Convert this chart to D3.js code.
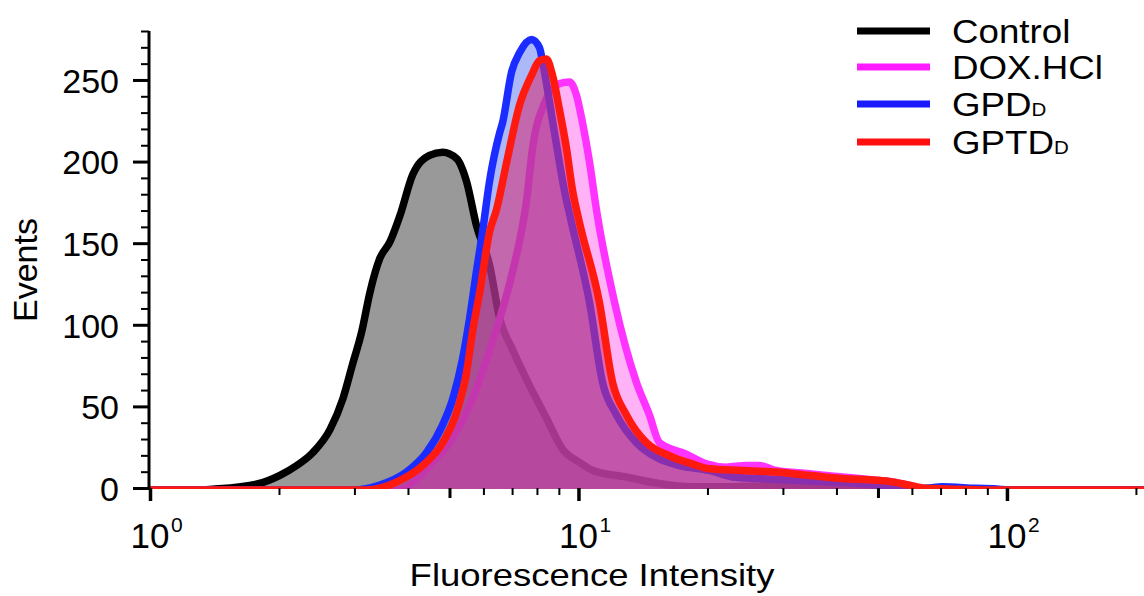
<!doctype html>
<html lang="en">
<head>
<meta charset="utf-8">
<script src="https://d3js.org/d3.v7.min.js"></script>
<style>
  body { margin: 0; background: #fff; }
  svg { display: block; font-family: "Liberation Sans", Arial, sans-serif; }
</style>
</head>
<body>
<svg width="1144" height="596"></svg>
<script>

// fluorescence intensity (x) and event counts (y)
var controlX = [1, 1.30, 1.40, 1.78, 2.01, 2.20, 2.40, 2.63, 2.82, 2.97, 3.12, 3.26, 3.44, 3.63, 3.83, 4.10, 4.49, 4.82, 5.20, 5.48, 5.78, 6.20, 6.55, 7.02, 7.69, 8.42, 9.18, 10.05, 10.8, 12.9, 15.4, 18.4, 22.1, 31.5, 45.2, 56, 100, 210];
var controlY = [0, 0, 0.5, 3.7, 9, 15, 23, 37, 56, 77, 97, 121, 142, 152, 168, 193, 205, 207, 203, 189, 162, 138, 105, 86, 64, 44, 25, 17, 12, 8, 4, 2, 2, 3, 1, 0, 0, 0];

var doxX = [1, 3.77, 4.50, 5.20, 5.66, 6.10, 6.55, 7.02, 7.57, 7.81, 8.33, 9.03, 9.53, 9.89, 10.22, 10.61, 11.01, 12.14, 13.65, 14.64, 15.45, 17.85, 19.88, 22.13, 24.64, 26.42, 28.94, 34.56, 41.25, 49.52, 53.95, 59.10, 64.74, 80, 210];
var doxY = [0, 0, 15, 36, 56, 80, 105, 134, 178, 209, 237, 249, 250, 242, 225, 201, 172, 115, 66, 46, 29, 22, 16, 14, 15, 15, 12, 10, 8, 6, 5, 3, 0.5, 0, 0];

var gpdX = [1, 2.97, 3.44, 3.97, 4.42, 4.82, 5.09, 5.36, 5.57, 5.78, 5.97, 6.20, 6.55, 6.65, 6.98, 7.29, 7.77, 8.11, 8.25, 8.79, 9.28, 9.63, 10.61, 11.38, 12.27, 13.65, 15.45, 17.20, 20.20, 22.86, 26.42, 31.54, 37.84, 45.19, 53.95, 64.74, 70.56, 84.68, 95.8, 100, 210];
var gpdY = [0, 0, 3, 11, 23, 40, 56, 80, 105, 134, 158, 189, 219, 225, 256, 268, 276, 271, 262, 219, 183, 164, 115, 66, 46, 29, 19, 15, 12, 8, 7, 6, 5, 4, 2, 1, 2, 1, 0.5, 0, 0];

var gptdX = [1, 3.21, 3.77, 4.33, 4.82, 5.20, 5.48, 5.66, 5.88, 6.20, 6.44, 6.80, 7.29, 7.77, 8.11, 8.42, 8.70, 9.03, 9.38, 9.68, 10.05, 11.19, 12.01, 12.94, 14.41, 16.30, 18.44, 20.20, 24.12, 28.94, 34.56, 41.25, 49.52, 53.95, 59.10, 64.74, 77.29, 90, 210];
var gptdY = [0, 0, 5, 15, 29, 48, 72, 97, 121, 158, 172, 201, 236, 254, 263, 264, 254, 233, 209, 184, 164, 115, 66, 46, 29, 21, 16, 13, 12, 11, 9, 7, 6, 5, 3, 1, 0.5, 0, 0];

var seriesNames = ["Control", "DOX.HCl", "GPD", "GPTD"];
var seriesSubs = ["", "", "D", "D"];
var lineColors = ["#000000", "#ff33ff", "#1a2cff", "#ff1a10"];
var legendColors = ["#000000", "#ff1aff", "#1a1aff", "#ff1010"];
var fillColors = ["#999999", "#ff66ee", "#3050f0", "#d2327a"];
var fillOpacity = [1, 0.5, 0.4, 0.6];

var yTicks = [0, 50, 100, 150, 200, 250];
var xTickExps = [0, 1, 2];

var svg = d3.select("svg"),
    plotLeft = 150, plotRight = 1145, plotTop = 31, plotBottom = 488;

var x = d3.scaleLog().domain([1, 210]).range([plotLeft, plotRight]);
var y = d3.scaleLinear().domain([0, 280]).range([plotBottom, plotTop]);

var series = [
  d3.zip(controlX, controlY),
  d3.zip(doxX, doxY),
  d3.zip(gpdX, gpdY),
  d3.zip(gptdX, gptdY)
];

// the curves sit a little below the axis and are clipped there,
// so only a thin part of each outline shows along the baseline
var drop = 2;

svg.append("clipPath").attr("id", "plot-clip")
  .append("rect")
    .attr("x", plotLeft).attr("y", 0)
    .attr("width", 1144 - plotLeft).attr("height", plotBottom + 1);

var area = d3.area()
    .x(function(d) { return x(d[0]); })
    .y0(y(0) + drop)
    .y1(function(d) { return y(d[1]) + drop; })
    .curve(d3.curveMonotoneX);

var line = d3.line()
    .x(function(d) { return x(d[0]); })
    .y(function(d) { return y(d[1]) + drop; })
    .curve(d3.curveMonotoneX);

// x axis baseline
svg.append("line")
    .attr("x1", plotLeft).attr("x2", 1144)
    .attr("y1", plotBottom).attr("y2", plotBottom)
    .attr("stroke", "#000").attr("stroke-width", 2);

// histograms, each fill covers what was drawn before it
var plot = svg.append("g").attr("clip-path", "url(#plot-clip)");
series.forEach(function(s, i) {
  plot.append("path")
      .attr("d", area(s))
      .attr("fill", fillColors[i])
      .attr("fill-opacity", fillOpacity[i]);
  plot.append("path")
      .attr("d", line(s))
      .attr("fill", "none")
      .attr("stroke", lineColors[i])
      .attr("stroke-width", 7.5)
      .attr("stroke-linejoin", "round");
});

// y axis
var yMinor = d3.range(0, 281, 10).filter(function(v) { return v % 50 != 0; });
var yAxisG = svg.append("g").attr("transform", "translate(" + (plotLeft - 1) + ",0)");
yAxisG.append("g")
    .call(d3.axisLeft(y).tickValues(yMinor).tickSize(8).tickFormat(""))
    .call(function(g) { g.select(".domain").remove(); })
    .selectAll("line").attr("stroke-width", 2);
yAxisG.append("g")
    .call(d3.axisLeft(y).tickValues(yTicks).tickSize(16).tickPadding(14))
    .call(function(g) { g.select(".domain").remove(); })
    .call(function(g) {
      g.selectAll("line").attr("stroke-width", 3);
      g.selectAll("text")
          .attr("font-size", 34)
          .attr("font-family", "Liberation Sans, Arial, sans-serif")
          .attr("fill", "#000")
          .attr("dy", "0.36em");
    });
yAxisG.append("line")
    .attr("x1", 0).attr("x2", 0)
    .attr("y1", plotTop).attr("y2", plotBottom + 2)
    .attr("stroke", "#000").attr("stroke-width", 3);

// x axis ticks
var xMinor = [2, 3, 4, 6, 7, 8, 9, 20, 30, 40, 60, 70, 80, 90, 200];
var xMid = [5, 50];
var xMajor = xTickExps.map(function(e) { return Math.pow(10, e); });
var xAxisG = svg.append("g").attr("transform", "translate(0," + plotBottom + ")");
[[xMinor, 7, 2], [xMid, 10, 3], [xMajor, 13, 3.5]].forEach(function(t) {
  xAxisG.append("g")
      .call(d3.axisBottom(x).tickValues(t[0]).tickSize(t[1]).tickFormat(""))
      .call(function(g) { g.select(".domain").remove(); })
      .selectAll("line").attr("stroke-width", t[2]);
});

// x tick labels as 10 with a superscript exponent
xTickExps.forEach(function(e) {
  var px = x(Math.pow(10, e));
  svg.append("text")
      .attr("x", px).attr("y", 548)
      .attr("text-anchor", "middle")
      .attr("font-size", 35)
      .text("10");
  svg.append("text")
      .attr("x", px + 21).attr("y", 532)
      .attr("font-size", 21)
      .text(e);
});

// axis titles
svg.append("text")
    .attr("transform", "translate(592,586) scale(1.14,1)")
    .attr("text-anchor", "middle")
    .attr("font-size", 32)
    .text("Fluorescence Intensity");

svg.append("text")
    .attr("transform", "translate(37,270) rotate(-90)")
    .attr("text-anchor", "middle")
    .attr("font-size", 34)
    .text("Events");

// legend
var legendY = [31, 67, 104, 142];
var legend = svg.append("g");
seriesNames.forEach(function(name, i) {
  legend.append("line")
      .attr("x1", 857).attr("x2", 930)
      .attr("y1", legendY[i]).attr("y2", legendY[i])
      .attr("stroke", legendColors[i])
      .attr("stroke-width", 7);
  var t = legend.append("text")
      .attr("transform", "translate(952," + (legendY[i] + 12) + ") scale(1.08,1)")
      .attr("font-size", 34)
      .text(name);
  if (seriesSubs[i]) {
    t.append("tspan").attr("font-size", 19).text(seriesSubs[i]);
  }
});

</script>
</body>
</html>
